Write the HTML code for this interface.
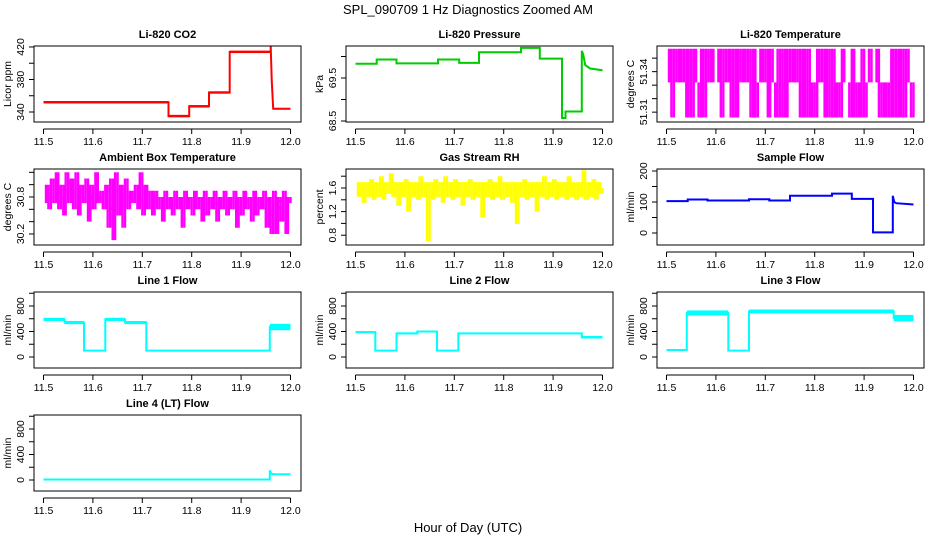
<!DOCTYPE html>
<html><head><meta charset="utf-8"><style>
html,body{margin:0;padding:0;background:#fff;}
svg{display:block;font-family:"Liberation Sans",Arial,sans-serif;}
</style></head><body>
<svg id="c" width="936" height="540" viewBox="0 0 936 540">
<text x="468" y="14" text-anchor="middle" font-size="13">SPL_090709  1 Hz Diagnostics Zoomed AM</text>
<text x="468" y="532" text-anchor="middle" font-size="13">Hour of Day (UTC)</text>
</svg>
<script>
// ---- data arrays ----
const xTicks = [11.5, 11.6, 11.7, 11.8, 11.9, 12.0];
const xTickLabels = ["11.5", "11.6", "11.7", "11.8", "11.9", "12.0"];

const co2Times = [11.5,11.753,11.753,11.795,11.795,11.835,11.835,11.877,11.877,11.96,11.96,11.962,11.965,12.0];
const co2Values = [352,352,335,335,347,347,364,364,414,414,421,380,344,344];
const co2Spread = [1.5,0,1.5,0,1.5,0,1.5,0,1.5,0,0,0,1,0];

const presTimes = [11.5,11.543,11.543,11.583,11.583,11.667,11.667,11.71,11.71,11.75,11.75,11.835,11.835,11.873,11.873,11.918,11.918,11.925,11.925,11.958,11.958,11.961,11.965,11.975,12.0];
const presValues = [69.83,69.83,69.93,69.93,69.84,69.84,69.93,69.93,69.85,69.85,70.1,70.1,70.2,70.2,69.95,69.95,68.57,68.57,68.72,68.72,70.13,70.05,69.8,69.72,69.68];

const liTempValues = [51.332,51.357,51.306,51.357,51.332,51.357,51.332,51.357,51.306,51.357,51.306,51.357,51.332,51.306,51.357,51.306,51.357,51.332,51.357,51.332,51.332,51.357,51.306,51.357,51.332,51.357,51.306,51.357,51.306,51.357,51.332,51.357,51.332,51.357,51.306,51.357,51.306,51.332,51.357,51.332,51.357,51.306,51.357,51.332,51.306,51.357,51.306,51.357,51.306,51.357,51.332,51.357,51.332,51.357,51.306,51.357,51.306,51.357,51.306,51.332,51.306,51.357,51.332,51.357,51.306,51.357,51.306,51.357,51.306,51.332,51.306,51.357,51.332,51.332,51.306,51.357,51.306,51.332,51.306,51.357,51.306,51.332,51.357,51.332,51.332,51.357,51.306,51.332,51.306,51.332,51.306,51.357,51.306,51.357,51.306,51.357,51.306,51.357,51.332,51.306,51.332];

const ambValues = [30.7,31.0,30.6,31.1,30.7,31.2,30.6,31.0,30.5,31.2,30.7,31.1,30.6,31.2,30.5,31.0,30.7,31.1,30.4,31.0,30.6,31.2,30.7,30.9,30.6,31.0,30.3,31.1,30.1,31.2,30.5,31.0,30.3,31.1,30.6,30.9,30.7,31.0,30.6,31.2,30.5,31.0,30.6,30.9,30.5,30.9,30.6,30.8,30.4,30.9,30.6,30.8,30.5,30.9,30.6,30.8,30.3,30.9,30.6,30.8,30.5,30.9,30.6,30.8,30.4,30.9,30.5,30.8,30.6,30.9,30.4,30.8,30.6,30.9,30.5,30.8,30.6,30.9,30.3,30.8,30.5,30.9,30.6,30.8,30.4,30.9,30.5,30.8,30.6,30.9,30.3,30.8,30.2,30.9,30.2,30.8,30.4,30.9,30.2,30.8,30.7];

const rhValues = [1.7,1.45,1.7,1.35,1.7,1.45,1.75,1.4,1.7,1.45,1.8,1.4,1.7,1.5,1.85,1.45,1.7,1.3,1.7,1.45,1.75,1.2,1.7,1.45,1.7,1.4,1.8,1.45,1.7,0.7,1.7,1.4,1.75,1.45,1.7,1.35,1.8,1.45,1.7,1.4,1.75,1.45,1.7,1.3,1.7,1.45,1.75,1.4,1.7,1.45,1.7,1.1,1.7,1.45,1.75,1.4,1.7,1.45,1.8,1.4,1.7,1.45,1.7,1.35,1.7,0.99,1.7,1.45,1.75,1.4,1.7,1.45,1.7,1.2,1.7,1.45,1.8,1.4,1.7,1.45,1.75,1.4,1.7,1.45,1.7,1.4,1.8,1.45,1.7,1.4,1.7,1.45,1.9,1.4,1.7,1.45,1.75,1.4,1.7,1.5,1.6];

const flowTimes = [11.5,11.543,11.543,11.583,11.583,11.667,11.667,11.708,11.708,11.75,11.75,11.835,11.835,11.875,11.875,11.918,11.918,11.958,11.958,11.961,11.965,12.0];
const flowValues = [103,103,108,108,105,105,109,109,105,105,120,120,127,127,110,110,2,2,120,100,96,92];

const line1Times = [11.5,11.543,11.543,11.582,11.582,11.625,11.625,11.665,11.665,11.708,11.708,11.958,11.958,12.0];
const line1Values = [590,590,540,540,100,100,590,590,540,540,100,100,470,470];
const line1Spread = [25,0,25,0,5,0,25,0,25,0,5,0,50,0];

const line2Times = [11.5,11.54,11.54,11.583,11.583,11.625,11.625,11.665,11.665,11.708,11.708,11.958,11.958,12.0];
const line2Values = [390,390,100,100,370,370,400,400,100,100,370,370,310,310];
const line2Spread = [15,0,5,0,15,0,10,0,5,0,12,0,20,0];

const line3Times = [11.5,11.541,11.541,11.625,11.625,11.667,11.667,11.96,11.96,12.0];
const line3Values = [110,110,690,690,100,100,715,715,610,610];
const line3Spread = [8,0,40,0,5,0,30,0,50,0];

const line4Times = [11.5,11.958,11.958,11.961,11.965,12.0];
const line4Values = [8,8,150,100,92,90];
const line4Spread = [6,0,0,0,4,0];

const flowTicks = [0,200,400,600,800,1000];
const flowTickLabels = ["0","","400","","800",""];

// ---- layout ----
const NS = "http://www.w3.org/2000/svg";
const svg = document.getElementById("c");
const colX = [34, 346, 657], rowY = [46, 169, 292, 415];
const BW = 267, BH = 76;

function mk(tag, attrs, parent) {
  const e = document.createElementNS(NS, tag);
  for (const k in attrs) e.setAttribute(k, attrs[k]);
  (parent || svg).appendChild(e);
  return e;
}

function panel(p) {
  const L = colX[p.col], T = rowY[p.row];
  const g = mk("g", {});
  
  
  const xs = t => L + 9.5 + (t - 11.5) / 0.5 * 247;
  const ys = v => T + (p.usr[1] - v) / (p.usr[1] - p.usr[0]) * BH;
  const tt = mk("text", {x: L + BW / 2, y: T - 8, "text-anchor": "middle", "font-size": 11, "font-weight": "bold"}, g);
  tt.textContent = p.title;
  
  
  const dg = mk("g", {}, g);
  
  
  if (p.times) {
    if (p.spread) {
      for (let i = 0; i < p.times.length - 1; i++) {
        const s = p.spread[i];
        if (s > 0) {
          const y1 = ys(p.values[i] + s), y2 = ys(p.values[i] - s);
          const r = mk("rect", {x: xs(p.times[i]), y: y1, width: Math.max(0, xs(p.times[i + 1]) - xs(p.times[i])), height: y2 - y1, fill: p.color}, dg);
          
          
        }
      }
    }
    const pts = p.times.map((t, i) => xs(t).toFixed(1) + "," + ys(p.values[i]).toFixed(1)).join(" ");
    const pl = mk("polyline", {points: pts, fill: "none", stroke: p.color, "stroke-width": p.sw || 2}, dg);
    
    
  } else {
    const n = p.values.length;
    let d = "";
    for (let i = 1; i < n; i++) {
      const x = xs(11.5 + 0.5 * i / (n - 1));
      d += "M" + x.toFixed(1) + "," + ys(p.values[i - 1]).toFixed(1) + "V" + ys(p.values[i]).toFixed(1);
    }
    const pa = mk("path", {d: d, fill: "none", stroke: p.color, "stroke-width": p.sw || 2}, dg);
    
    
  }
  const bx = mk("rect", {x: L, y: T, width: BW, height: BH, fill: "none", stroke: "#000", "stroke-width": 1}, g);
  
  
  const xa = mk("g", {}, g);
  
  
  const ay = T + BH + 7;
  mk("line", {x1: xs(xTicks[0]), x2: xs(xTicks[xTicks.length - 1]), y1: ay, y2: ay, stroke: "#000"}, xa);
  xTicks.forEach((t, i) => {
    mk("line", {x1: xs(t), x2: xs(t), y1: ay, y2: ay + 5, stroke: "#000"}, xa);
    const lb = mk("text", {x: xs(t), y: ay + 16, "text-anchor": "middle", "font-size": 10.5}, xa);
    lb.textContent = xTickLabels[i];
    
    
  });
  const ya = mk("g", {}, g);
  
  
  p.yTicks.forEach((v, i) => {
    const y = ys(v);
    mk("line", {x1: L - 5, x2: L, y1: y, y2: y, stroke: "#000"}, ya);
    if (p.yLabels[i]) {
      const lb = mk("text", {x: L - 10, y: y, "text-anchor": "middle", "font-size": 10.5, transform: `rotate(-90 ${L - 10} ${y})`}, ya);
      lb.textContent = p.yLabels[i];
      
      
    }
  });
  const cy = T + BH / 2;
  const yt = mk("text", {x: L - 23, y: cy, "text-anchor": "middle", "font-size": 10.5, transform: `rotate(-90 ${L - 23} ${cy})`}, ya);
  yt.textContent = p.ylab;
  
  
}

panel({name: "co2-panel", col: 0, row: 0, title: "Li-820 CO2", ylab: "Licor ppm", usr: [327.7, 421.2],
  yTicks: [340, 360, 380, 400, 420], yLabels: ["340", "", "380", "", "420"],
  times: co2Times, values: co2Values, spread: co2Spread, color: "#ff0000"});
panel({name: "pressure-panel", col: 1, row: 0, title: "Li-820 Pressure", ylab: "kPa", usr: [68.477, 70.244],
  yTicks: [68.5, 69.0, 69.5, 70.0], yLabels: ["68.5", "", "69.5", ""],
  times: presTimes, values: presValues, color: "#00cc00"});
panel({name: "li820-temperature-panel", col: 2, row: 0, title: "Li-820 Temperature", ylab: "degrees C", usr: [51.3027, 51.359],
  yTicks: [51.31, 51.32, 51.33, 51.34, 51.35], yLabels: ["51.31", "", "", "51.34", ""],
  values: liTempValues, color: "#ff00ff", sw: 2.4});
panel({name: "ambient-temperature-panel", col: 0, row: 1, title: "Ambient Box Temperature", ylab: "degrees C", usr: [30.021, 31.254],
  yTicks: [30.2, 30.4, 30.6, 30.8, 31.0, 31.2], yLabels: ["30.2", "", "", "30.8", "", ""],
  values: ambValues, color: "#ff00ff", sw: 2.4});
panel({name: "rh-panel", col: 1, row: 1, title: "Gas Stream RH", ylab: "percent", usr: [0.634, 1.922],
  yTicks: [0.8, 1.0, 1.2, 1.4, 1.6, 1.8], yLabels: ["0.8", "", "1.2", "", "1.6", ""],
  values: rhValues, color: "#ffff00", sw: 2.4});
panel({name: "sample-flow-panel", col: 2, row: 1, title: "Sample Flow", ylab: "ml/min", usr: [-38.7, 206.5],
  yTicks: [0, 50, 100, 150, 200], yLabels: ["0", "", "100", "", "200"],
  times: flowTimes, values: flowValues, color: "#0000ff"});
panel({name: "line1-flow-panel", col: 0, row: 2, title: "Line 1 Flow", ylab: "ml/min", usr: [-172.6, 1019.6],
  yTicks: flowTicks, yLabels: flowTickLabels, times: line1Times, values: line1Values, spread: line1Spread, color: "#00ffff"});
panel({name: "line2-flow-panel", col: 1, row: 2, title: "Line 2 Flow", ylab: "ml/min", usr: [-172.6, 1019.6],
  yTicks: flowTicks, yLabels: flowTickLabels, times: line2Times, values: line2Values, spread: line2Spread, color: "#00ffff"});
panel({name: "line3-flow-panel", col: 2, row: 2, title: "Line 3 Flow", ylab: "ml/min", usr: [-172.6, 1019.6],
  yTicks: flowTicks, yLabels: flowTickLabels, times: line3Times, values: line3Values, spread: line3Spread, color: "#00ffff"});
panel({name: "line4-flow-panel", col: 0, row: 3, title: "Line 4 (LT) Flow", ylab: "ml/min", usr: [-172.6, 1019.6],
  yTicks: flowTicks, yLabels: flowTickLabels, times: line4Times, values: line4Values, spread: line4Spread, color: "#00ffff"});
</script>
</body></html>
